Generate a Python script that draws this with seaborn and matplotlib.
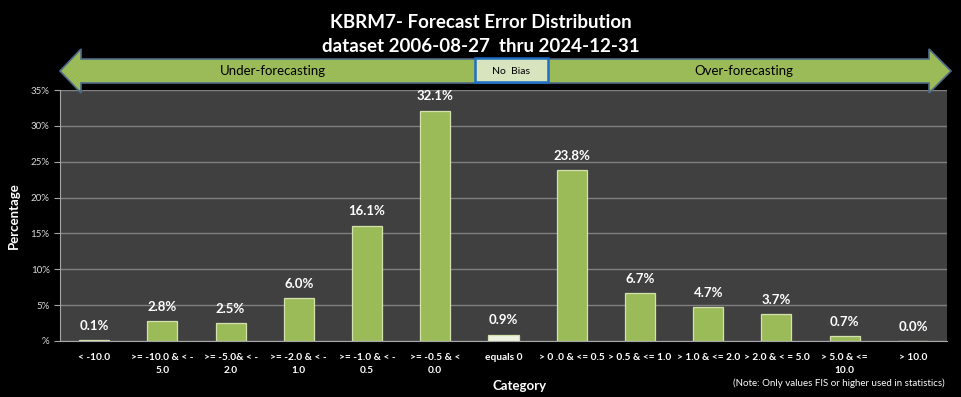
import matplotlib
matplotlib.use("Agg")
import matplotlib.pyplot as plt
import matplotlib.patches as mpatches
import seaborn as sns
import pandas as pd

# Categorias y porcentajes
categorias = ["< -10.0", ">= -10.0 & < -\n5.0", ">= -5.0& < -\n2.0", ">= -2.0 & < -\n1.0",
              ">= -1.0 & < -\n0.5", ">= -0.5 & <\n0.0", "equals 0", "> 0 .0 & <= 0.5",
              "> 0.5 & <= 1.0", "> 1.0 & <= 2.0", "> 2.0 & < = 5.0", "> 5.0 & <=\n10.0", "> 10.0"]
porcentajes = [0.1, 2.8, 2.5, 6.0, 16.1, 32.1, 0.9, 23.8, 6.7, 4.7, 3.7, 0.7, 0.0]
yticks = [0, 5, 10, 15, 20, 25, 30, 35]
ytick_labels = ["%", "5%", "10%", "15%", "20%", "25%", "30%", "35%"]

titulo1 = "KBRM7- Forecast Error Distribution"
titulo2 = "dataset 2006-08-27  thru 2024-12-31"
nota = "(Note: Only values FIS or higher used in statistics)"

verde = "#9BBB59"
colores = [verde] * 6 + ["#EEF3E2"] + [verde] * 6

sns.set_style("dark")
plt.rcParams["font.family"] = ["Lato", "DejaVu Sans"]

df = pd.DataFrame({"categoria": categorias, "pct": porcentajes})

fig = plt.figure(figsize=(9.61, 3.97), dpi=100, facecolor="black")
ax = fig.add_axes([60 / 961, 1 - 341 / 397, 887 / 961, 251 / 397])
ax.set_facecolor("#404040")

sns.barplot(data=df, x="categoria", y="pct", hue="categoria", palette=colores,
            saturation=1, legend=False, width=0.44, edgecolor="#D4E3AE",
            linewidth=0.9, ax=ax)

for cont in ax.containers:
    ax.bar_label(cont, fmt="%.1f%%", padding=6, color="white",
                 fontsize=9.5, fontweight="bold")

ax.set_ylim(0, 35)
ax.set_xlim(-0.5, len(categorias) - 0.5)
ax.set_yticks(yticks)
ax.set_yticklabels(ytick_labels, color="#D9D9D9", fontsize=7)
ax.set_xticks(range(len(categorias)))
ax.set_xticklabels(categorias, color="white", fontsize=7.3, fontweight="bold",
                   linespacing=1.45)
ax.set_xticks([i - 0.5 for i in range(len(categorias) + 1)], minor=True)
ax.tick_params(axis="x", which="major", length=0, pad=9)
ax.tick_params(axis="x", which="minor", length=4, color="#A6A6A6")
ax.tick_params(axis="y", length=4, color="#A6A6A6", left=True)
ax.grid(axis="y", color="#808080", linewidth=1)
ax.grid(axis="x", visible=False)
ax.set_axisbelow(True)
for s in ["top", "right"]:
    ax.spines[s].set_visible(False)
for s in ["left", "bottom"]:
    ax.spines[s].set_color("#A6A6A6")

ax.set_ylabel("Percentage", color="white", fontsize=9.5, fontweight="bold", labelpad=8)
ax.set_xlabel("Category", color="white", fontsize=9.5, fontweight="bold")
ax.xaxis.set_label_coords(0.518, -0.155)

W, H = 961, 397
fig.text(0.5, 1 - 22 / H, titulo1, ha="center", va="center", color="white",
         fontsize=13.5, fontweight="bold")
fig.text(0.5, 1 - 46 / H, titulo2, ha="center", va="center", color="white",
         fontsize=13.5, fontweight="bold")
fig.text(0.983, 1 - 383 / H, nota, ha="right", va="center", color="white", fontsize=7)

# flecha doble
def p(x, y):
    return (x / W, 1 - y / H)
flecha = [p(60, 71), p(81, 49), p(81, 59), p(929, 59), p(929, 49), p(951, 71),
          p(929, 93), p(929, 83), p(81, 83), p(81, 93)]
fig.patches.append(mpatches.Polygon(flecha, closed=True, transform=fig.transFigure,
                                    facecolor=verde, edgecolor="#4F6B8A", linewidth=1.2,
                                    zorder=5))
x0, y0 = p(475, 82)
x1, y1 = p(548, 58)
fig.patches.append(mpatches.Rectangle((x0, y0), x1 - x0, y1 - y0, transform=fig.transFigure,
                                      facecolor="#D7E4BD", edgecolor="#1F6FC5", linewidth=1.8,
                                      zorder=6))
fig.text(511 / W, 1 - 71 / H, "No  Bias", ha="center", va="center", color="black",
         fontsize=7.5, zorder=7)
fig.text(273 / W, 1 - 71 / H, "Under-forecasting", ha="center", va="center",
         color="black", fontsize=9.5, zorder=7)
fig.text(744 / W, 1 - 71 / H, "Over-forecasting", ha="center", va="center",
         color="black", fontsize=9.5, zorder=7)

fig.savefig("out.png", dpi=100, facecolor="black")
